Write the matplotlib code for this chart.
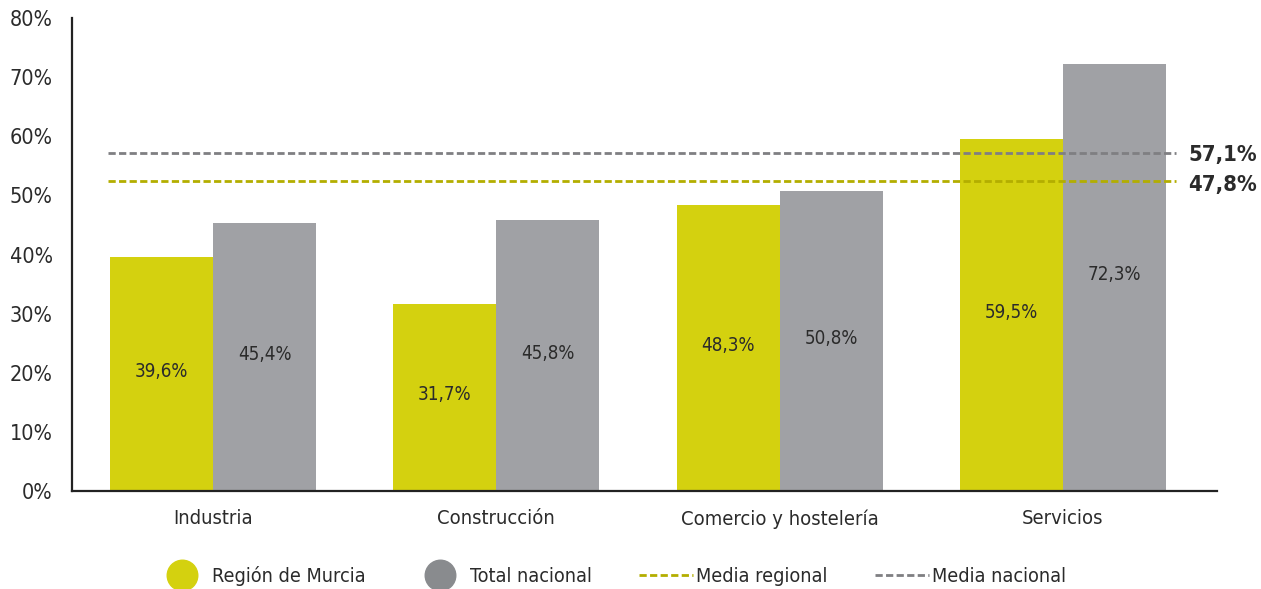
import matplotlib.pyplot as plt
from matplotlib.lines import Line2D
import numpy as np

plt.rcParams['font.family'] = ['DejaVu Sans']
plt.rcParams['font.stretch'] = 'condensed'

sectores = ['Industria', 'Construcción', 'Comercio y hostelería', 'Servicios']
murcia = [39.6, 31.7, 48.3, 59.5]
nacional = [45.4, 45.8, 50.8, 72.3]
media_nacional = 57.1
media_regional = 47.8
# in the original the regional line is drawn a bit higher than its value
media_regional_pos = 52.4

amarillo = '#d4d10f'
gris = '#a0a1a5'
gris_leyenda = '#898b8e'
gris_linea = '#7f7f82'
oliva = '#b3ae00'
texto = '#2b2b2b'

fig = plt.figure(figsize=(12.61, 5.89), dpi=100)
ax = fig.add_axes([0.0571, 0.1664, 0.9079, 0.803])

x = np.arange(len(sectores))
w = 0.3636
b1 = ax.bar(x - w / 2, murcia, w, color=amarillo)
b2 = ax.bar(x + w / 2, nacional, w, color=gris)

for bars, vals in ((b1, murcia), (b2, nacional)):
    for r, v in zip(bars, vals):
        ax.text(r.get_x() + r.get_width() / 2, v / 2 + 0.4,
                f'{v:.1f}%'.replace('.', ','), ha='center', va='center',
                fontsize=13.5, color=texto)

x0, x1 = -0.371, 3.40
ax.plot([x0, x1], [media_nacional] * 2, ls=(0, (2.6, 1.2)), color=gris_linea, lw=2)
ax.plot([x0, x1], [media_regional_pos] * 2, ls=(0, (2.6, 1.2)), color=oliva, lw=2)
ax.text(3.443, media_nacional - 0.3, f'{media_nacional:.1f}%'.replace('.', ','),
        fontsize=15.8, fontweight='bold', color=texto, va='center', ha='left')
ax.text(3.443, media_regional_pos - 0.6, f'{media_regional:.1f}%'.replace('.', ','),
        fontsize=15.8, fontweight='bold', color=texto, va='center', ha='left')

ax.set_xlim(-0.498, 3.544)
ax.set_ylim(0, 80)
ax.set_yticks(range(0, 81, 10))
ax.set_yticklabels([f'{t}%' for t in range(0, 81, 10)], fontsize=15.5, color=texto)
ax.set_xticks(x)
ax.set_xticklabels(sectores, fontsize=14.5, color=texto)
ax.tick_params(axis='y', length=0, pad=14)
ax.tick_params(axis='x', length=0, pad=13)
for s in ('top', 'right'):
    ax.spines[s].set_visible(False)
for s in ('left', 'bottom'):
    ax.spines[s].set_color('#222222')
    ax.spines[s].set_linewidth(1.6)

handles = [
    Line2D([], [], ls='none', marker='o', markersize=22, color=amarillo),
    Line2D([], [], ls='none', marker='o', markersize=22, color=gris_leyenda),
    Line2D([], [], ls=(0, (2.6, 1.2)), lw=2, color=oliva),
    Line2D([], [], ls=(0, (2.6, 1.2)), lw=2, color=gris_linea),
]
labels = ['Región de Murcia', 'Total nacional', 'Media regional', 'Media nacional']
leg = fig.legend(handles, labels, loc='center', bbox_to_anchor=(0.484, 0.022),
                 ncol=4, frameon=False, fontsize=14.2, handlelength=2.75,
                 handletextpad=0.15, columnspacing=2.4)
for t in leg.get_texts():
    t.set_color(texto)

fig.savefig('out.png', dpi=100)
